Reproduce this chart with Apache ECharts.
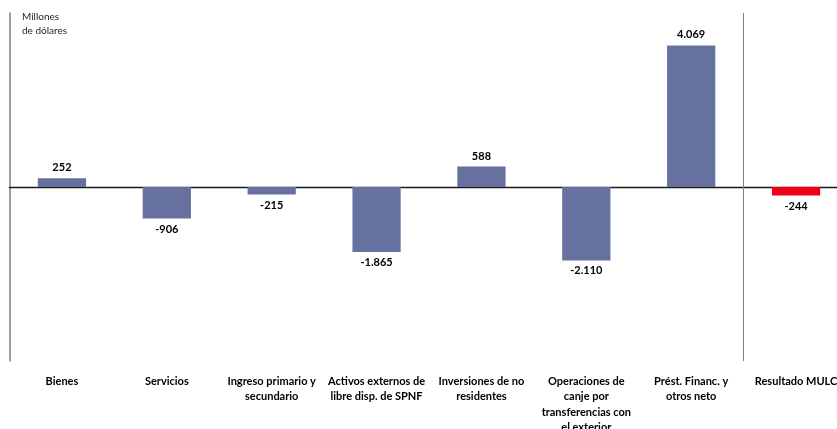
<!DOCTYPE html>
<html>
<head>
<meta charset="utf-8">
<style>
  html, body { margin: 0; padding: 0; background: #ffffff; }
  #chart { width: 837px; height: 429px; }
</style>
<script src="https://cdn.jsdelivr.net/npm/echarts@6/dist/echarts.min.js"></script>
</head>
<body>
<div id="chart"></div>
<script>
// Components of the exchange-market (MULC) result, in millions of dollars
const categories = [
  'Bienes',
  'Servicios',
  'Ingreso primario y\nsecundario',
  'Activos externos de\nlibre disp. de SPNF',
  'Inversiones de no\nresidentes',
  'Operaciones de\ncanje por\ntransferencias con\nel exterior',
  'Prést. Financ. y\notros neto',
  'Resultado MULC'
];
const values = [252, -906, -215, -1865, 588, -2110, 4069, -244];
const unitLabel = 'Millones\nde dólares';

const FONT = 'Lato, "Open Sans", sans-serif';
const barBlue = '#67719f';
const resultRed = '#f00018';
const totalIndex = categories.length - 1;

function fmt(v) {
  const s = Math.abs(v).toString().replace(/\B(?=(\d{3})+(?!\d))/g, '.');
  return (v < 0 ? '-' : '') + s;
}

const chart = echarts.init(document.getElementById('chart'), null, { renderer: 'canvas' });
chart.setOption({
  animation: false,
  backgroundColor: '#ffffff',
  grid: {
    left: 9.5, top: 13, width: 839, bottom: 68,
    containLabel: false,
    outerBoundsMode: 'none'
  },
  xAxis: [
    {
      // zero line through the bars
      type: 'category',
      data: categories,
      position: 'bottom',
      axisLine: { onZero: true, lineStyle: { color: '#1a1a1a', width: 1.3 } },
      axisTick: { show: false },
      axisLabel: { show: false },
      splitLine: { show: false }
    },
    {
      // category labels along the bottom
      type: 'category',
      data: categories,
      position: 'bottom',
      axisLine: { show: false, onZero: false },
      axisTick: { show: false },
      axisLabel: {
        interval: 0,
        margin: 12.5,
        fontFamily: FONT,
        fontWeight: 'bold',
        fontSize: 11,
        lineHeight: 15.4,
        color: '#000000',
        align: 'center'
      },
      splitLine: { show: false }
    },
    {
      // band-index scale used to place the divider before the total
      type: 'value',
      min: 0,
      max: categories.length,
      show: false
    }
  ],
  yAxis: {
    type: 'value',
    min: -5000,
    max: 5000,
    interval: 5000,
    axisLine: { show: true, lineStyle: { color: '#7f7f7f', width: 1.5 } },
    axisTick: { show: false },
    axisLabel: { show: false },
    splitLine: { show: false }
  },
  graphic: [
    {
      type: 'text',
      left: 22,
      top: 10,
      style: {
        text: unitLabel,
        font: '10px ' + FONT,
        fill: '#262626',
        lineHeight: 14
      }
    }
  ],
  series: [
    {
      type: 'bar',
      xAxisIndex: 0,
      barWidth: '46%',
      data: values.map(function (v, i) {
        return {
          value: v,
          itemStyle: { color: i === totalIndex ? resultRed : barBlue },
          label: { position: v >= 0 ? 'top' : 'bottom' }
        };
      }),
      label: {
        show: true,
        distance: 5,
        fontFamily: FONT,
        fontWeight: 'bold',
        fontSize: 11,
        color: '#000000',
        formatter: function (p) { return fmt(p.value); }
      }
    },
    {
      // vertical divider separating the components from the total
      type: 'line',
      xAxisIndex: 2,
      data: [],
      silent: true,
      markLine: {
        silent: true,
        symbol: 'none',
        label: { show: false },
        lineStyle: { color: '#7f7f7f', width: 1, type: 'solid' },
        data: [{ xAxis: totalIndex }]
      }
    }
  ]
});
</script>
</body>
</html>
